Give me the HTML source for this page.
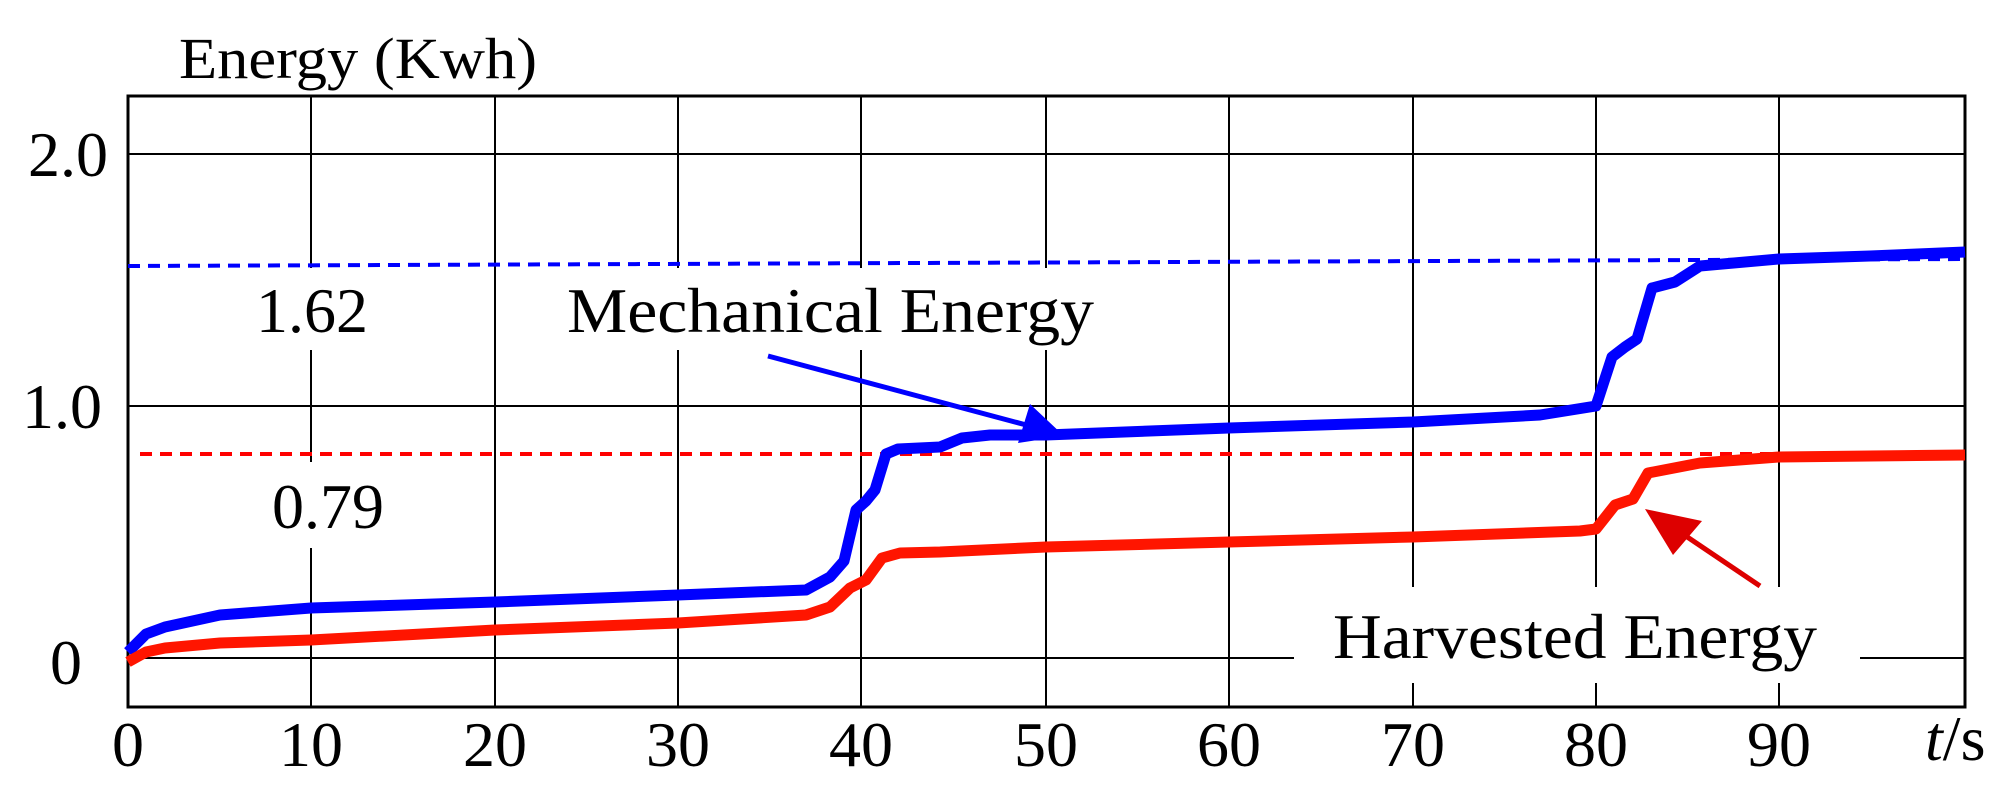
<!DOCTYPE html>
<html><head><meta charset="utf-8"><style>
html,body{margin:0;padding:0;background:#fff;}
svg{display:block;font-family:"Liberation Serif",serif;}
</style></head><body>
<svg width="2008" height="808" viewBox="0 0 2008 808" xmlns="http://www.w3.org/2000/svg">
<g stroke="#000" stroke-width="2">
<line x1="311" y1="96" x2="311" y2="707"/><line x1="495" y1="96" x2="495" y2="707"/>
<line x1="678" y1="96" x2="678" y2="707"/><line x1="861" y1="96" x2="861" y2="707"/>
<line x1="1046" y1="96" x2="1046" y2="707"/><line x1="1229" y1="96" x2="1229" y2="707"/>
<line x1="1413" y1="96" x2="1413" y2="707"/><line x1="1596" y1="96" x2="1596" y2="707"/>
<line x1="1779" y1="96" x2="1779" y2="707"/>
<line x1="128" y1="154" x2="1965" y2="154"/><line x1="128" y1="406" x2="1965" y2="406"/>
<line x1="128" y1="658" x2="1965" y2="658"/>
</g>
<g fill="#fff">
<rect x="240" y="268" width="140" height="82"/>
<rect x="560" y="268" width="540" height="82"/>
<rect x="255" y="462" width="140" height="86"/>
<rect x="1294" y="587" width="566" height="96"/>
</g>
<rect x="128" y="96" width="1837" height="611" fill="none" stroke="#000" stroke-width="3"/>
<line x1="128" y1="266" x2="1965" y2="259" stroke="#0000ff" stroke-width="4" stroke-dasharray="12,8"/>
<line x1="140" y1="454" x2="1965" y2="454" stroke="#ff0000" stroke-width="4" stroke-dasharray="12,8"/>
<polyline fill="none" stroke="#0000ff" stroke-width="11" stroke-linejoin="round" points="128,652 146,634 165,627 220,615 311,608 495,602 678,595 806,590 830,577 844,561 856,510 866,501 875,490 886,454 898,449 940,447 962,438 990,435 1046,435 1229,428 1413,422 1540,415 1596,406 1612,357 1625,347 1637,339 1652,288 1675,282 1700,266 1779,259 1870,256 1965,252"/>
<polyline fill="none" stroke="#ff1500" stroke-width="11" stroke-linejoin="round" points="128,662 146,652 165,648 220,643 311,640 495,630 678,623 806,615 830,607 850,588 866,580 882,558 900,553 940,552 1046,547 1229,542 1413,537 1580,531 1596,529 1615,505 1633,499 1648,473 1700,463 1779,457 1870,456 1965,455"/>
<g stroke="#0000ff" stroke-width="5" fill="#0000ff">
<line x1="768" y1="356" x2="1030" y2="426"/>
<polygon points="1064,436 1018,443 1030,404" stroke="none"/>
</g>
<g stroke="#dd0000" stroke-width="5" fill="#dd0000">
<line x1="1760" y1="586" x2="1668" y2="524"/>
<polygon points="1645,509 1702,521 1673,555" stroke="none"/>
</g>
<g font-size="64" fill="#000">
<text x="179" y="78" textLength="358" lengthAdjust="spacingAndGlyphs" font-size="58">Energy (Kwh)</text>
<text x="28" y="176">2.0</text>
<text x="22" y="428">1.0</text>
<text x="50" y="684">0</text>
<text x="256" y="332">1.62</text>
<text x="272" y="528">0.79</text>
<text x="567" y="332" textLength="527" lengthAdjust="spacingAndGlyphs">Mechanical Energy</text>
<text x="1333" y="658" textLength="484" lengthAdjust="spacingAndGlyphs">Harvested Energy</text>
<g text-anchor="middle">
<text x="128" y="766">0</text><text x="311" y="766">10</text><text x="495" y="766">20</text>
<text x="678" y="766">30</text><text x="861" y="766">40</text><text x="1046" y="766">50</text>
<text x="1229" y="766">60</text><text x="1413" y="766">70</text><text x="1596" y="766">80</text>
<text x="1779" y="766">90</text>
</g>
<text x="1925" y="760"><tspan font-style="italic">t</tspan>/s</text>
</g>
</svg>
</body></html>
